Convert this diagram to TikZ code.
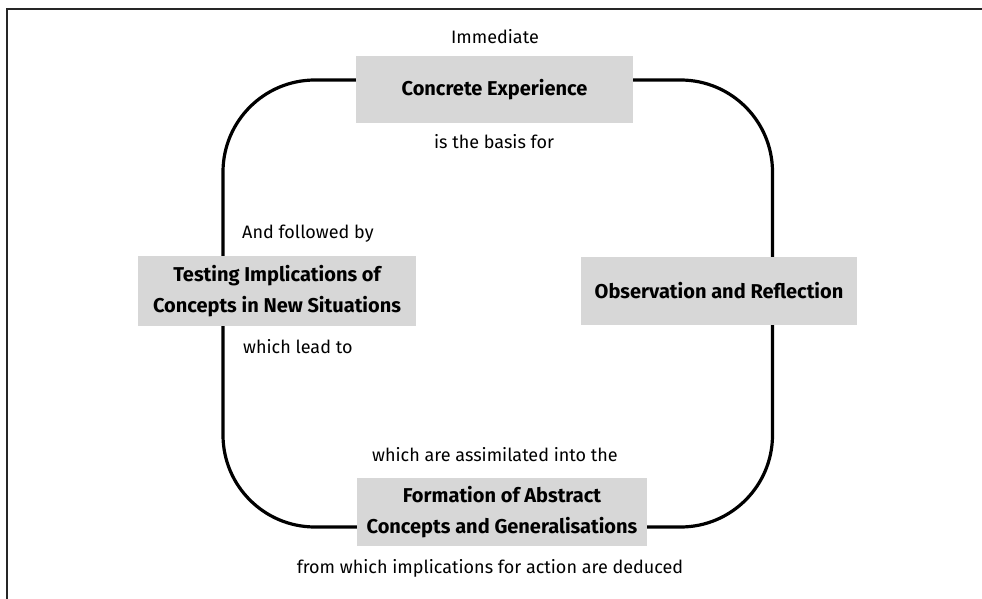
\documentclass[tikz,border=0pt]{standalone}
\usepackage{fontspec}
\setmainfont{Fira Sans}
\begin{document}
\begin{tikzpicture}[x=1pt,y=-1pt,
  box/.style={fill=boxgray, inner sep=0pt, align=center,
    font=\fontsize{20}{31}\selectfont\bfseries},
  lbl/.style={inner sep=0pt, font=\fontsize{18}{21}\selectfont},
  loopline/.style={line width=3.2pt, black, rounded corners=92pt},
  framel/.style={line width=1.3pt, black!85}]
\definecolor{boxgray}{HTML}{D7D7D7}
\useasboundingbox (0,0) rectangle (982,599);
\draw[framel] (7,605) -- (7,9) -- (990,9);
% boxes
\node[box, minimum width=277pt, minimum height=67pt] (ce) at (494.5,89.5) {Concrete Experience};
\node[box, minimum width=278pt, minimum height=70pt] (ti) at (277,291) {Testing Implications of\\Concepts in New Situations};
\node[box, minimum width=276pt, minimum height=68pt] (or) at (719,291) {Observation and Reflection};
\node[box, minimum width=290pt, minimum height=68pt] (fa) at (502,512) {Formation of Abstract\\Concepts and Generalisations};
% labels
\node[lbl] (l1) at (495,37) {Immediate};
\node[lbl] (l2) at (494,142) {is the basis for};
\node[lbl, anchor=west] (l3) at (242,234) {And followed by};
\node[lbl, anchor=west] (l4) at (243,347) {which lead to};
\node[lbl] (l5) at (495,455) {which are assimilated into the};
\node[lbl] (l6) at (490,568) {from which implications for action are deduced};
% corners
\coordinate (TR) at (772.5,80);
\coordinate (BR) at (772.5,527);
\coordinate (BL) at (223,527);
\coordinate (TL) at (223,80);
% loop
\draw[loopline] (ce.east |- TR) -- (TR) -- (or.north -| TR);
\draw[loopline] (or.south -| BR) -- (BR) -- (fa.east |- BR);
\draw[loopline] (fa.west |- BL) -- (BL) -- (ti.south -| BL);
\draw[loopline] (ti.north -| TL) -- (TL) -- (ce.west |- TL);
\end{tikzpicture}
\end{document}
